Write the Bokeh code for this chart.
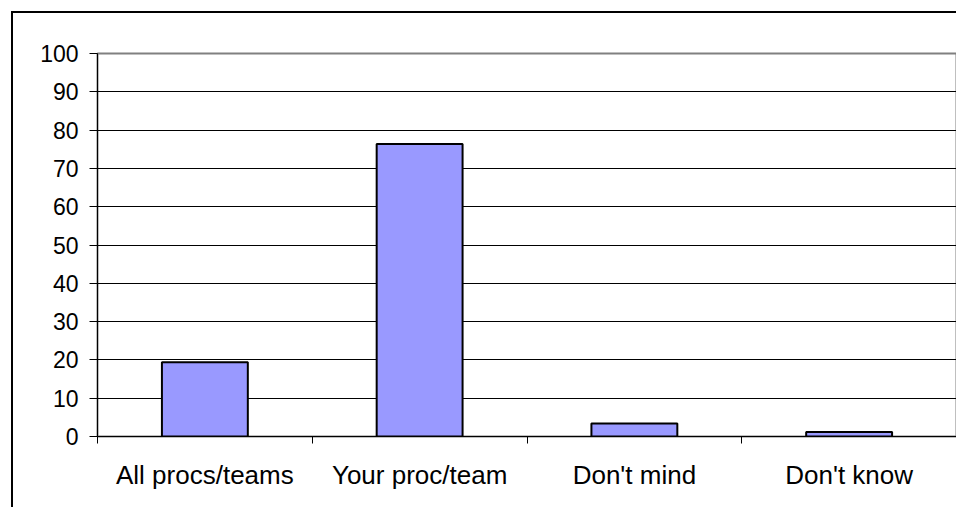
from bokeh.plotting import figure
from bokeh.models import ColumnDataSource, FixedTicker, Range1d
from bokeh.embed import file_html
from bokeh.resources import INLINE

categories = ["All procs/teams", "Your proc/team", "Don't mind", "Don't know"]
values = [19.4, 76.4, 3.4, 1.2]
y_ticks = [0, 10, 20, 30, 40, 50, 60, 70, 80, 90, 100]

xs = [i + 0.5 for i in range(len(categories))]
src = ColumnDataSource(dict(x=xs, top=values))

p = figure(width=945, height=496, output_backend="svg", toolbar_location=None,
           x_range=Range1d(0, len(categories)), y_range=Range1d(0, 100),
           min_border_left=84, min_border_right=2, min_border_top=40, min_border_bottom=73)
p.margin = (11, 0, 0, 11)
p.styles = {"border-top": "2px solid black", "border-left": "2px solid black"}

p.vbar(x="x", top="top", bottom=0, width=0.4, source=src,
       fill_color="#9999FF", line_color="black", line_width=2)

p.outline_line_color = "#808080"
p.outline_line_width = 2
p.background_fill_color = "white"
p.border_fill_color = "white"

p.xgrid.visible = False
p.ygrid.ticker = FixedTicker(ticks=y_ticks)
p.ygrid.grid_line_color = "black"
p.ygrid.grid_line_width = 1

p.yaxis.ticker = FixedTicker(ticks=y_ticks)
p.yaxis.axis_line_color = "black"
p.yaxis.major_tick_line_color = "black"
p.yaxis.major_tick_out = 8
p.yaxis.major_tick_in = 0
p.yaxis.minor_tick_line_color = None
p.yaxis.major_label_standoff = 11
p.yaxis.major_label_text_font = "Liberation Sans"
p.yaxis.major_label_text_font_size = "23px"
p.yaxis.major_label_text_color = "black"

p.xaxis.ticker = FixedTicker(ticks=xs, minor_ticks=list(range(len(categories) + 1)))
p.xaxis.major_label_overrides = {x: c for x, c in zip(xs, categories)}
p.xaxis.axis_line_color = "black"
p.xaxis.major_tick_line_color = None
p.xaxis.minor_tick_line_color = "black"
p.xaxis.minor_tick_out = 7
p.xaxis.minor_tick_in = 0
p.xaxis.major_label_standoff = 16
p.xaxis.major_label_text_font = "Liberation Sans"
p.xaxis.major_label_text_font_size = "26px"
p.xaxis.major_label_text_color = "black"

open("out.html", "w").write(file_html(p, INLINE))
